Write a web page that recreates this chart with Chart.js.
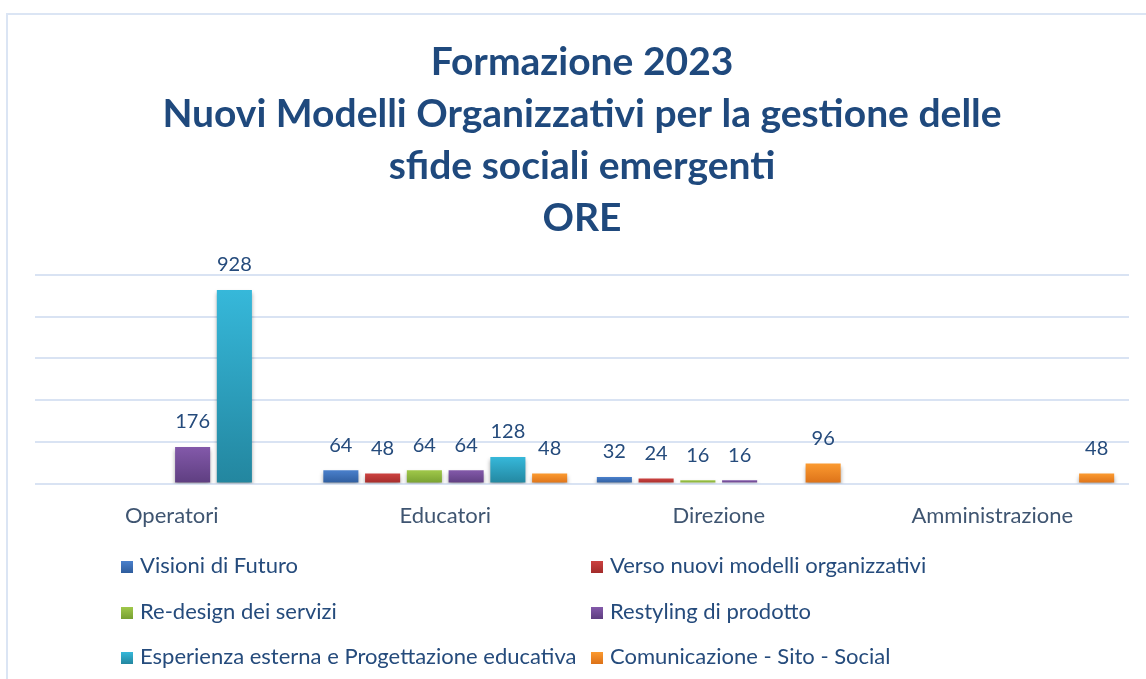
<!DOCTYPE html>
<html>
<head>
<meta charset="utf-8">
<script src="https://cdn.jsdelivr.net/npm/chart.js@4"></script>
<style>
  body { margin: 0; background: #fff; width: 1146px; height: 679px; overflow: hidden; font-family: Lato, "Open Sans", sans-serif; }
  #cornice { position: absolute; left: 6px; top: 13px; width: 1160px; height: 700px; border: 2px solid #dbe5f4; box-sizing: border-box; }
  #contenitore { position: absolute; left: 0; top: 0; width: 1146px; height: 553px; }
  #legenda { position: absolute; left: 0; top: 0; width: 1146px; height: 679px; pointer-events: none; }
  .voce { position: absolute; font-size: 22px; color: #254b7c; white-space: nowrap; line-height: 26px; }
  .voce span.quadrato { display: inline-block; width: 12px; height: 12px; margin-right: 7px; vertical-align: 0px; }
</style>
</head>
<body>
<div id="cornice"></div>
<div id="contenitore"><canvas id="grafico"></canvas></div>
<div id="legenda"></div>
<script>
// categorie e serie (ore di formazione)
const categorie = ["Operatori", "Educatori", "Direzione", "Amministrazione"];
const nomiSerie = [
  "Visioni di Futuro",
  "Verso nuovi modelli organizzativi",
  "Re-design dei servizi",
  "Restyling di prodotto",
  "Esperienza esterna e Progettazione educativa",
  "Comunicazione - Sito - Social"
];
const visioniFuturo = [null, 64, 32, null];
const versoNuoviModelli = [null, 48, 24, null];
const redesignServizi = [null, 64, 16, null];
const restylingProdotto = [176, 64, 16, null];
const esperienzaEsterna = [928, 128, null, null];
const comunicazione = [null, 48, 96, 48];

const titolo = ["Formazione 2023", "Nuovi Modelli Organizzativi per la gestione delle", "sfide sociali emergenti", "ORE"];

// colori: [chiaro, scuro] per il gradiente delle barre
const colori = [
  ["#4a80cc", "#2e5c9c"],
  ["#cc4240", "#a22b2a"],
  ["#a0c84a", "#77a031"],
  ["#8359aa", "#5e3e80"],
  ["#36b8da", "#23869f"],
  ["#fb9a30", "#dc7118"]
];

const serie = [visioniFuturo, versoNuoviModelli, redesignServizi, restylingProdotto, esperienzaEsterna, comunicazione];

function gradiente(i) {
  return (context) => {
    const chart = context.chart;
    const y = chart.scales && chart.scales.y;
    if (!y || context.parsed === undefined || context.parsed.y == null) return colori[i][0];
    const top = y.getPixelForValue(context.parsed.y);
    const base = y.getPixelForValue(0);
    if (!isFinite(top) || top === base) return colori[i][0];
    const g = chart.ctx.createLinearGradient(0, top, 0, base);
    g.addColorStop(0, colori[i][0]);
    g.addColorStop(1, colori[i][1]);
    return g;
  };
}

const etichetteValori = {
  id: 'etichetteValori',
  beforeDatasetsDraw(chart) {
    const ctx = chart.ctx;
    ctx.save();
    ctx.shadowColor = 'rgba(0,0,0,0.35)';
    ctx.shadowBlur = 4;
    ctx.shadowOffsetY = 3;
  },
  afterDatasetsDraw(chart) {
    const ctx = chart.ctx;
    ctx.restore();
    ctx.save();
    ctx.font = '20px Lato, "Open Sans", sans-serif';
    ctx.fillStyle = '#254b7c';
    ctx.textAlign = 'center';
    ctx.textBaseline = 'middle';
    chart.data.datasets.forEach((ds, i) => {
      const meta = chart.getDatasetMeta(i);
      meta.data.forEach((bar, j) => {
        const v = ds.data[j];
        if (v == null) return;
        ctx.fillText(String(v), bar.x, bar.y - 25);
      });
    });
    ctx.restore();
  }
};

new Chart(document.getElementById('grafico'), {
  type: 'bar',
  data: {
    labels: categorie,
    datasets: serie.map((dati, i) => ({
      label: nomiSerie[i],
      data: dati,
      backgroundColor: gradiente(i),
      categoryPercentage: 0.916,
      barPercentage: 0.84,
      skipNull: false
    }))
  },
  options: {
    responsive: true,
    maintainAspectRatio: false,
    animation: false,
    layout: { padding: { left: 35, right: 17, top: 0, bottom: 5 } },
    plugins: {
      legend: { display: false },
      tooltip: { enabled: false },
      title: {
        display: true,
        text: titolo,
        color: '#1f497d',
        font: { family: 'Lato, "Open Sans", sans-serif', size: 39, weight: 'bold', lineHeight: 1.333 },
        padding: { top: 36, bottom: 31 }
      }
    },
    scales: {
      x: {
        grid: { display: false, drawTicks: false },
        border: { display: false },
        ticks: { color: '#3f5571', font: { family: 'Lato, "Open Sans", sans-serif', size: 22 }, padding: 19 }
      },
      y: {
        min: 0,
        max: 1000,
        grid: { color: '#d9e3f3', lineWidth: 2, drawTicks: false },
        border: { display: false },
        ticks: { display: false, stepSize: 200 }
      }
    }
  },
  plugins: [etichetteValori]
});

// legenda HTML a due colonne
const legenda = document.getElementById('legenda');
nomiSerie.forEach((nome, i) => {
  const voce = document.createElement('div');
  voce.className = 'voce';
  const col = i % 2;
  const riga = Math.floor(i / 2);
  voce.style.left = (col === 0 ? 121 : 591) + 'px';
  voce.style.top = (552 + riga * 45.5) + 'px';
  voce.innerHTML = '<span class="quadrato" style="background:linear-gradient(' + colori[i][0] + ',' + colori[i][1] + ')"></span>' + nome;
  legenda.appendChild(voce);
});
</script>
</body>
</html>
